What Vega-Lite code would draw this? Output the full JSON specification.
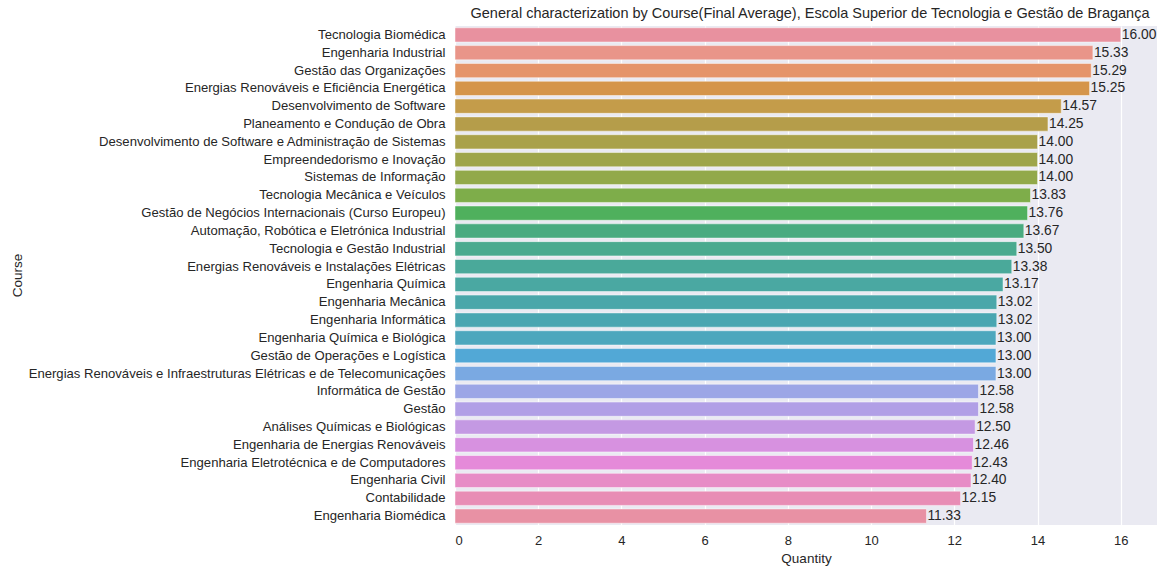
{
  "$schema": "https://vega.github.io/schema/vega-lite/v6.json",
  "width": 702,
  "height": 499,
  "autosize": "none",
  "padding": {"left": 455, "top": 26, "right": 3, "bottom": 44},
  "background": "white",
  "config": {
    "font": "Liberation Sans",
    "view": {"fill": "#EAEAF2", "stroke": null},
    "axis": {"labelColor": "#262626", "titleColor": "#262626", "labelFont": "Liberation Sans", "titleFont": "Liberation Sans", "titleFontWeight": "normal"}
  },
  "title": {"text": "General characterization by Course(Final Average), Escola Superior de Tecnologia e Gestão de Bragança", "fontSize": 14.5, "fontWeight": "normal", "color": "#262626", "offset": 5, "anchor": "middle", "dx": 4},
  "data": {"values": [
    {"Course": "Tecnologia Biomédica", "Average": 16.00},
    {"Course": "Engenharia Industrial", "Average": 15.33},
    {"Course": "Gestão das Organizações", "Average": 15.29},
    {"Course": "Energias Renováveis e Eficiência Energética", "Average": 15.25},
    {"Course": "Desenvolvimento de Software", "Average": 14.57},
    {"Course": "Planeamento e Condução de Obra", "Average": 14.25},
    {"Course": "Desenvolvimento de Software e Administração de Sistemas", "Average": 14.00},
    {"Course": "Empreendedorismo e Inovação", "Average": 14.00},
    {"Course": "Sistemas de Informação", "Average": 14.00},
    {"Course": "Tecnologia Mecânica e Veículos", "Average": 13.83},
    {"Course": "Gestão de Negócios Internacionais (Curso Europeu)", "Average": 13.76},
    {"Course": "Automação, Robótica e Eletrónica Industrial", "Average": 13.67},
    {"Course": "Tecnologia e Gestão Industrial", "Average": 13.50},
    {"Course": "Energias Renováveis e Instalações Elétricas", "Average": 13.38},
    {"Course": "Engenharia Química", "Average": 13.17},
    {"Course": "Engenharia Mecânica", "Average": 13.02},
    {"Course": "Engenharia Informática", "Average": 13.02},
    {"Course": "Engenharia Química e Biológica", "Average": 13.00},
    {"Course": "Gestão de Operações e Logística", "Average": 13.00},
    {"Course": "Energias Renováveis e Infraestruturas Elétricas e de Telecomunicações", "Average": 13.00},
    {"Course": "Informática de Gestão", "Average": 12.58},
    {"Course": "Gestão", "Average": 12.58},
    {"Course": "Análises Químicas e Biológicas", "Average": 12.50},
    {"Course": "Engenharia de Energias Renováveis", "Average": 12.46},
    {"Course": "Engenharia Eletrotécnica e de Computadores", "Average": 12.43},
    {"Course": "Engenharia Civil", "Average": 12.40},
    {"Course": "Contabilidade", "Average": 12.15},
    {"Course": "Engenharia Biomédica", "Average": 11.33}
  ]},
  "encoding": {
    "y": {"field": "Course", "type": "nominal", "sort": null, "title": "Course",
      "scale": {"paddingInner": 0.2, "paddingOuter": 0.1},
      "axis": {"domain": false, "ticks": false, "labelPadding": 10, "labelFontSize": 13.1, "titleFontSize": 13.5, "titleX": -438, "titleY": 249, "titleAngle": -90, "titleAlign": "center", "titleBaseline": "middle", "labelLimit": 500}},
    "x": {"field": "Average", "type": "quantitative", "title": "Quantity",
      "scale": {"domain": [0, 16.87], "nice": false, "zero": true},
      "axis": {"values": [0, 2, 4, 6, 8, 10, 12, 14, 16], "domain": false, "ticks": false, "grid": true, "gridColor": "white", "gridWidth": 1.2, "labelPadding": 9, "labelFontSize": 13, "titleFontSize": 13.5, "titlePadding": 4, "format": "d"}}
  },
  "layer": [
    {
      "mark": {"type": "bar", "stroke": "white", "strokeWidth": 0.8, "strokeOpacity": 0.6},
      "encoding": {
        "color": {"field": "Course", "type": "nominal", "legend": null, "sort": null,
          "scale": {"range": ["#e8919f", "#e99589", "#e5946a", "#d5954a", "#c49c4a", "#b59d4a", "#a9a14a", "#9ea54a", "#92a94a", "#7ead4a", "#4fb05d", "#4aab80", "#4aaa8f", "#4aa99a", "#4aa8a2", "#4aa7aa", "#4aa6b1", "#4da7bd", "#52a8d6", "#7aa9e2", "#9ca6e6", "#b19fe6", "#c499e3", "#d791e0", "#e58ad9", "#e78cc6", "#e88db5", "#e891a4"]}}
      }
    },
    {
      "mark": {"type": "text", "align": "left", "baseline": "middle", "dx": 1, "fontSize": 13.8, "color": "#262626"},
      "encoding": {"text": {"field": "Average", "type": "quantitative", "format": ".2f"}}
    }
  ]
}
